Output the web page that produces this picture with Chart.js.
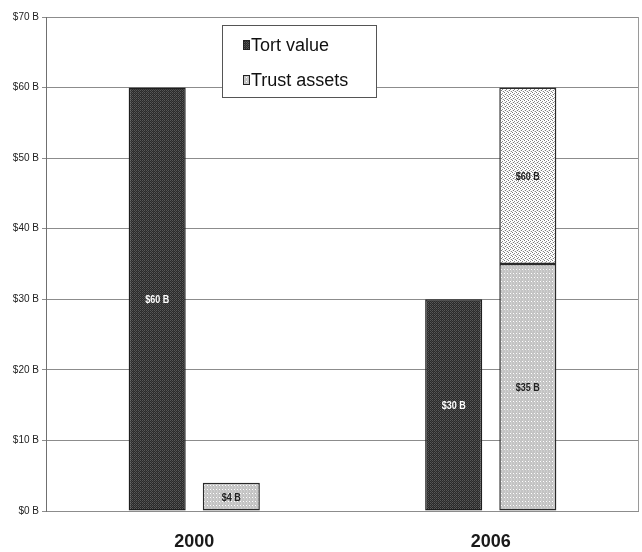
<!DOCTYPE html>
<html>
<head>
<meta charset="utf-8">
<script src="https://cdn.jsdelivr.net/npm/chart.js@4/dist/chart.umd.min.js"></script>
<style>
  html, body { margin: 0; padding: 0; background: #fff; }
  #wrap { width: 642px; height: 552px; position: relative; }
</style>
</head>
<body>
<div id="wrap"><canvas id="c" width="642" height="552"></canvas></div>
<script>
// Values in billions of dollars
const years = ['2000', '2006'];
const tortValue = [60, 30];
const trustAssets = [4, 35];
const trustAssetsUpper = [null, [35, 60]];   // floating segment from 35 up to 60
const seriesNames = ['Tort value', 'Trust assets'];
const yMin = 0, yMax = 70, yStep = 10;

// Small tiled fills that give the bars their printed texture
function makePattern(w, h, base, dots) {
  const t = document.createElement('canvas');
  t.width = w; t.height = h;
  const g = t.getContext('2d');
  g.fillStyle = base;
  g.fillRect(0, 0, w, h);
  dots.forEach(([x, y, col]) => { g.fillStyle = col; g.fillRect(x, y, 1, 1); });
  return g.createPattern(t, 'repeat');
}
const ctx = document.getElementById('c').getContext('2d');
const darkFill = makePattern(4, 4, '#2a2a2a', [
  [0, 0, '#585858'], [2, 0, '#585858'], [1, 1, '#444444'], [3, 1, '#444444'],
  [0, 2, '#585858'], [2, 2, '#585858'], [1, 3, '#3a3a3a'], [3, 3, '#505050']
]);
const lightFill = makePattern(6, 4, '#c3c3c3', [
  [0, 1, '#ffffff'], [3, 1, '#ffffff'], [1, 0, '#d0d0d0'], [1, 2, '#d0d0d0'],
  [1, 3, '#d0d0d0'], [4, 2, '#cfcfcf'], [4, 3, '#cfcfcf']
]);
const dotFill = makePattern(4, 4, '#ffffff', [
  [0, 0, '#7a7a7a'], [2, 1, '#8a8a8a'], [1, 2, '#7a7a7a'], [3, 3, '#8a8a8a'],
  [2, 3, '#dddddd'], [0, 2, '#e4e4e4']
]);

const money = v => '$' + v + ' B';

// Value labels centred in each bar, set in a narrow bold face
const barLabels = {
  id: 'barLabels',
  afterDatasetsDraw(chart) {
    const c = chart.ctx;
    chart.data.datasets.forEach((ds, i) => {
      const meta = chart.getDatasetMeta(i);
      meta.data.forEach((bar, j) => {
        const raw = ds.data[j];
        if (raw === null || raw === undefined) return;
        const v = Array.isArray(raw) ? raw[1] : raw;
        const p = bar.getCenterPoint();
        c.save();
        c.translate(p.x, p.y + 1);
        c.scale(0.82, 1);
        c.font = 'bold 11px "Liberation Sans", Arial, sans-serif';
        c.textAlign = 'center';
        c.textBaseline = 'middle';
        c.fillStyle = i === 0 ? '#ffffff' : '#222222';
        c.fillText(money(v), 0, 0);
        c.restore();
      });
    });
  }
};

// Right frame edge and the boxed legend inside the plot
const frameAndLegend = {
  id: 'frameAndLegend',
  beforeDatasetsDraw(chart) {
    const { ctx: c, chartArea: a } = chart;
    c.save();
    c.strokeStyle = '#9a9a9a';
    c.lineWidth = 1;
    c.beginPath();
    c.moveTo(Math.round(a.right) - 0.5, a.top);
    c.lineTo(Math.round(a.right) - 0.5, a.bottom);
    c.stroke();
    c.restore();
  },
  afterDraw(chart) {
    const { ctx: c, chartArea: a } = chart;
    const bx = a.left + 176, by = a.top + 8, bw = 154, bh = 72;
    c.save();
    c.fillStyle = '#ffffff';
    c.fillRect(bx, by, bw, bh);
    c.strokeStyle = '#555555';
    c.lineWidth = 1;
    c.strokeRect(bx + 0.5, by + 0.5, bw, bh);
    const fills = [darkFill, lightFill];
    c.font = '18px "Liberation Sans", Arial, sans-serif';
    c.textBaseline = 'middle';
    c.textAlign = 'left';
    seriesNames.forEach((name, i) => {
      const cy = by + 20 + i * 35;
      c.fillStyle = fills[i];
      c.fillRect(bx + 21, cy - 5, 7, 10);
      c.strokeStyle = '#222222';
      c.strokeRect(bx + 21.5, cy - 4.5, 6, 9);
      c.fillStyle = '#111111';
      c.fillText(name, bx + 29, cy + 1);
    });
    c.restore();
  }
};

new Chart(ctx, {
  type: 'bar',
  data: {
    labels: years,
    datasets: [
      { label: seriesNames[0], data: tortValue, stack: 'tort',
        backgroundColor: darkFill, borderColor: '#1e1e1e', borderWidth: 1.5, borderSkipped: false },
      { label: seriesNames[1], data: trustAssets, stack: 'trust',
        backgroundColor: lightFill, borderColor: '#2a2a2a', borderWidth: 1.5, borderSkipped: false },
      { label: seriesNames[1] + ' (upper)', data: trustAssetsUpper, stack: 'trust',
        backgroundColor: dotFill, borderColor: '#2a2a2a', borderWidth: 1.5, borderSkipped: false }
    ]
  },
  options: {
    responsive: false,
    animation: false,
    devicePixelRatio: 1,
    categoryPercentage: 0.5,
    barPercentage: 0.77,
    layout: { padding: { top: 17, right: 3, bottom: 0, left: 0 } },
    plugins: { legend: { display: false }, tooltip: { enabled: false } },
    scales: {
      x: {
        stacked: true,
        grid: { display: false, drawTicks: false },
        border: { display: false },
        ticks: {
          padding: 20,
          color: '#1a1a1a',
          font: { family: '"Liberation Sans", Arial, sans-serif', size: 18, weight: 'bold' }
        },
        afterFit(s) { s.height = 41; }
      },
      y: {
        stacked: false,
        min: yMin, max: yMax,
        grid: { color: '#8c8c8c', lineWidth: 1, tickLength: 4 },
        border: { color: '#707070', width: 1 },
        ticks: {
          stepSize: yStep,
          padding: 3,
          color: '#222222',
          font: { family: '"Liberation Sans", Arial, sans-serif', size: 10 },
          callback: v => money(v)
        },
        afterFit(s) { s.width = 46; }
      }
    }
  },
  plugins: [frameAndLegend, barLabels]
});
</script>
</body>
</html>
